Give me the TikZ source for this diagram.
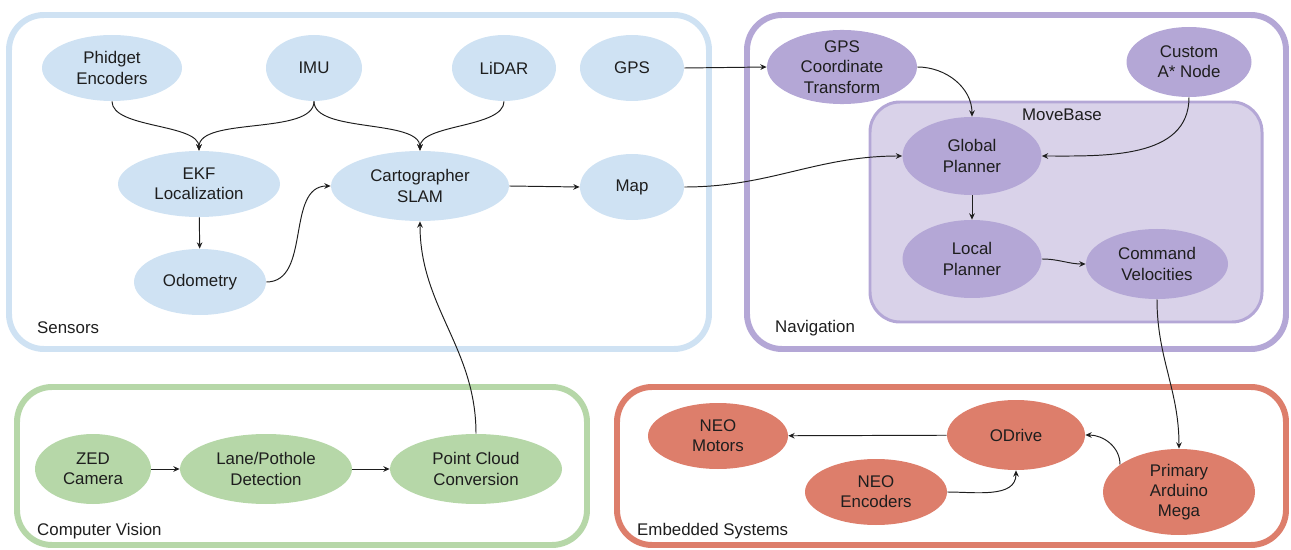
\documentclass[tikz,border=0pt]{standalone}
\usepackage{fontspec}
\setmainfont{Liberation Sans}
\definecolor{rbsens}{RGB}{207,226,243}
\definecolor{rbnav}{RGB}{180,167,214}
\definecolor{rbmove}{RGB}{217,210,233}
\definecolor{rbcv}{RGB}{182,215,168}
\definecolor{rbemb}{RGB}{221,126,107}
\definecolor{rbtext}{RGB}{30,30,30}
\usetikzlibrary{arrows.meta,positioning,shapes.geometric}

\begin{document}
\begin{tikzpicture}[
    every node/.style={font=\fontsize{9.6}{11.5}\selectfont, text=rbtext},
    sens/.style={ellipse, fill=rbsens, align=center, inner sep=0pt},
    nav/.style={ellipse, fill=rbnav, align=center, inner sep=0pt},
    cv/.style={ellipse, fill=rbcv, align=center, inner sep=0pt},
    emb/.style={ellipse, fill=rbemb, align=center, inner sep=0pt},
    group/.style={line width=3.4pt, rounded corners=0.7cm},
    grouplabel/.style={anchor=west},
    arr/.style={-{Stealth[length=3.6pt, width=3.2pt]}, line width=0.55pt, rbtext}
  ]
    \useasboundingbox (0,0) rectangle (25.82,-11.0);
    % Groups
    \draw[group, draw=rbsens] (0.18,-0.3) rectangle (14.18,-6.98);
    \draw[group, draw=rbnav] (14.94,-0.3) rectangle (25.72,-6.98);
    \draw[group, draw=rbcv] (0.34,-7.74) rectangle (11.74,-10.9);
    \draw[group, draw=rbemb] (12.34,-7.74) rectangle (25.72,-10.9);
    \draw[line width=1.7pt, rounded corners=0.6cm, draw=rbnav, fill=rbmove]
      (17.4,-2.04) rectangle (25.24,-6.44);
    \node[grouplabel] (lsens) at (0.62,-6.56) {Sensors};
    \node[grouplabel] (lnav) at (15.38,-6.56) {Navigation};
    \node[grouplabel] (lcv) at (0.62,-10.62) {Computer Vision};
    \node[grouplabel] (lemb) at (12.62,-10.62) {Embedded Systems};
    \node (lmove) at (21.24,-2.30) {MoveBase};
    % Sensors
    \node[sens, minimum width=2.8cm, minimum height=1.32cm] (phid) at (2.24,-1.36) {Phidget\\Encoders};
    \node[sens, minimum width=1.92cm, minimum height=1.32cm] (imu) at (6.28,-1.36) {IMU};
    \node[sens, minimum width=2.08cm, minimum height=1.32cm] (lidar) at (10.08,-1.36) {LiDAR};
    \node[sens, minimum width=2.08cm, minimum height=1.32cm] (gps) at (12.64,-1.36) {GPS};
    \node[sens, minimum width=3.24cm, minimum height=1.32cm] (ekf) at (3.98,-3.68) {EKF\\Localization};
    \node[sens, minimum width=3.56cm, minimum height=1.40cm] (slam) at (8.40,-3.72) {Cartographer\\SLAM};
    \node[sens, minimum width=2.08cm, minimum height=1.32cm] (map) at (12.64,-3.74) {Map};
    \node[sens, minimum width=2.64cm, minimum height=1.32cm] (odom) at (4.00,-5.64) {Odometry};
    % Navigation
    \node[nav, minimum width=3.0cm, minimum height=1.40cm] (gpstf) at (16.84,-1.34) {GPS\\Coordinate\\Transform};
    \node[nav, minimum width=2.5cm, minimum height=1.40cm] (astar) at (23.78,-1.24) {Custom\\A* Node};
    \node[nav, minimum width=2.78cm, minimum height=1.56cm] (glob) at (19.44,-3.12) {Global\\Planner};
    \node[nav, minimum width=2.78cm, minimum height=1.56cm] (loc) at (19.44,-5.18) {Local\\Planner};
    \node[nav, minimum width=2.84cm, minimum height=1.40cm] (cmdvel) at (23.14,-5.28) {Command\\Velocities};
    % Computer Vision
    \node[cv, minimum width=2.32cm, minimum height=1.40cm] (zed) at (1.86,-9.38) {ZED\\Camera};
    \node[cv, minimum width=3.44cm, minimum height=1.40cm] (lane) at (5.32,-9.38) {Lane/Pothole\\Detection};
    \node[cv, minimum width=3.44cm, minimum height=1.40cm] (pcl) at (9.52,-9.38) {Point Cloud\\Conversion};
    % Embedded Systems
    \node[emb, minimum width=2.8cm, minimum height=1.32cm] (motors) at (14.36,-8.72) {NEO\\Motors};
    \node[emb, minimum width=2.76cm, minimum height=1.40cm] (odrive) at (20.32,-8.70) {ODrive};
    \node[emb, minimum width=2.84cm, minimum height=1.32cm] (neoenc) at (17.52,-9.84) {NEO\\Encoders};
    \node[emb, minimum width=3.04cm, minimum height=1.72cm] (mega) at (23.58,-9.84) {Primary\\Arduino\\Mega};
    % Arrows
    \draw[arr] (phid.south) to[out=-90, in=90, looseness=0.7] (ekf.north);
    \draw[arr] (imu.south) to[out=-90, in=90, looseness=0.7] (ekf.north);
    \draw[arr] (imu.south) to[out=-90, in=90, looseness=0.7] (slam.north);
    \draw[arr] (lidar.south) to[out=-90, in=90, looseness=0.7] (slam.north);
    \draw[arr] (ekf) -- (odom);
    \draw[arr] (odom.east) to[out=0, in=180] (slam.west);
    \draw[arr] (slam.east) -- (map.west);
    \draw[arr] (map.east) to[out=0, in=180] (glob.west);
    \draw[arr] (gps.east) -- (gpstf.west);
    \draw[arr] (gpstf.east) to[out=0, in=90] (glob.north);
    \draw[arr] (astar.south) to[out=-90, in=0] (glob.east);
    \draw[arr] (glob) -- (loc);
    \draw[arr] (loc.east) to[out=0, in=180] (cmdvel.west);
    \draw[arr] (cmdvel.south) to[out=-90, in=90] (mega.north);
    \draw[arr] (pcl.north) to[out=90, in=-90] (slam.south);
    \draw[arr] (zed) -- (lane);
    \draw[arr] (lane) -- (pcl);
    \draw[arr] (odrive) -- (motors);
    \draw[arr] (neoenc.east) to[out=0, in=-90] (odrive.south);
    \draw[arr] (mega.155) to[out=90, in=0] (odrive.east);
  \end{tikzpicture}
\end{document}
